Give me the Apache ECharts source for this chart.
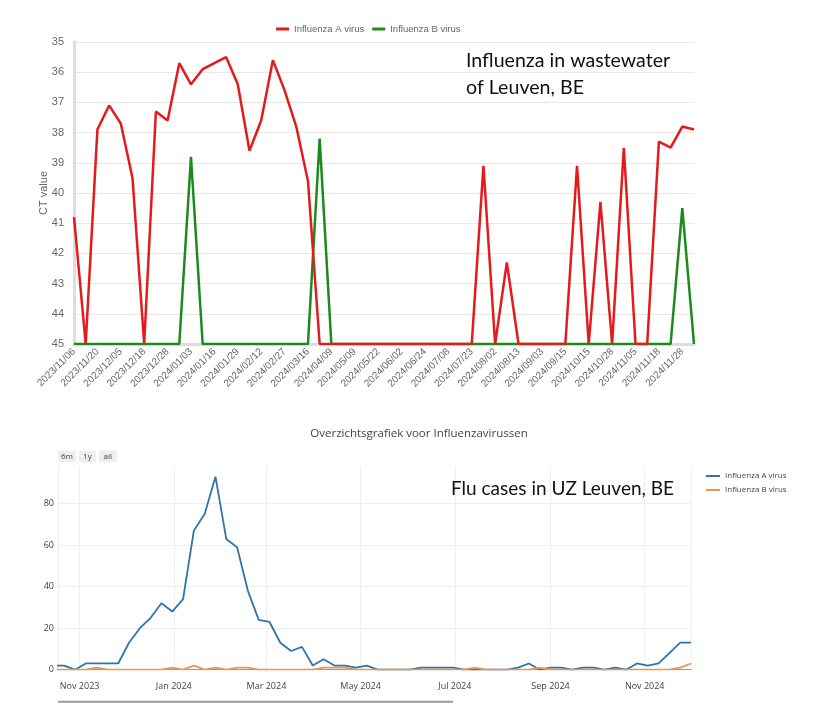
<!DOCTYPE html>
<html>
<head>
<meta charset="utf-8">
<script src="https://cdn.jsdelivr.net/npm/echarts@6/dist/echarts.min.js"></script>
<style>
html,body{margin:0;padding:0;background:#fff;}
#top{position:absolute;left:0;top:0;width:838px;height:400px;}
#bot{position:absolute;left:0;top:400px;width:838px;height:320px;}
</style>
</head>
<body>
<div id="top"></div>
<div id="bot"></div>
<script>
// ---------- Top chart: wastewater CT values ----------
const wwDates = [
 '2023/11/06','2023/11/13','2023/11/20','2023/11/27','2023/12/05','2023/12/11','2023/12/18','2023/12/22',
 '2023/12/28','2023/12/31','2024/01/03','2024/01/10','2024/01/16','2024/01/22','2024/01/29','2024/02/05',
 '2024/02/12','2024/02/19','2024/02/27','2024/03/06','2024/03/16','2024/03/27','2024/04/09','2024/04/23',
 '2024/05/09','2024/05/15','2024/05/22','2024/05/28','2024/06/02','2024/06/12','2024/06/24','2024/07/01',
 '2024/07/08','2024/07/15','2024/07/23','2024/07/28','2024/08/02','2024/08/07','2024/08/13','2024/08/22',
 '2024/09/03','2024/09/09','2024/09/15','2024/09/30','2024/10/15','2024/10/21','2024/10/28','2024/11/01',
 '2024/11/05','2024/11/12','2024/11/18','2024/11/25','2024/11/28','2024/12/02'
];
const wwFluA = [
 40.8,45,37.9,37.1,37.7,39.5,45,37.3,
 37.6,35.7,36.4,35.9,35.7,35.5,36.4,38.6,
 37.6,35.6,36.6,37.8,39.6,45,45,45,
 45,45,45,45,45,45,45,45,
 45,45,45,39.1,45,42.3,45,45,
 45,45,45,39.1,45,40.3,45,38.5,
 45,45,38.3,38.5,37.8,37.9
];
const wwFluB = [
 45,45,45,45,45,45,45,45,
 45,45,38.8,45,45,45,45,45,
 45,45,45,45,45,38.2,45,45,
 45,45,45,45,45,45,45,45,
 45,45,45,45,45,45,45,45,
 45,45,45,45,45,45,45,45,
 45,45,45,45,40.5,45
];
const ctTicks = {min:35, max:45, interval:1};

// ---------- Bottom chart: flu cases ----------
const caseDates = [
 '2023-10-15','2023-10-22','2023-10-29','2023-11-05','2023-11-12','2023-11-19','2023-11-26','2023-12-03',
 '2023-12-10','2023-12-17','2023-12-24','2023-12-31','2024-01-07','2024-01-14','2024-01-21','2024-01-28',
 '2024-02-04','2024-02-11','2024-02-18','2024-02-25','2024-03-03','2024-03-10','2024-03-17','2024-03-24',
 '2024-03-31','2024-04-07','2024-04-14','2024-04-21','2024-04-28','2024-05-05','2024-05-12','2024-05-19',
 '2024-05-26','2024-06-02','2024-06-09','2024-06-16','2024-06-23','2024-06-30','2024-07-07','2024-07-14',
 '2024-07-21','2024-07-28','2024-08-04','2024-08-11','2024-08-18','2024-08-25','2024-09-01','2024-09-08',
 '2024-09-15','2024-09-22','2024-09-29','2024-10-06','2024-10-13','2024-10-20','2024-10-27','2024-11-03',
 '2024-11-10','2024-11-17','2024-11-24','2024-12-01'
];
const casesA = [
 2,2,0,3,3,3,3,13,
 20,25,32,28,34,67,75,93,
 63,59,38,24,23,13,9,11,
 2,5,2,2,1,2,0,0,
 0,0,1,1,1,1,0,0,
 0,0,0,1,3,0,1,1,
 0,1,1,0,1,0,3,2,
 3,8,13,13
];
const casesB = [
 0,0,0,0,1,0,0,0,
 0,0,0,1,0,2,0,1,
 0,1,1,0,0,0,0,0,
 0,1,1,1,0,0,0,0,
 0,0,0,0,0,0,0,1,
 0,0,0,0,0,1,0,0,
 0,0,0,0,0,0,0,0,
 0,0,1,3
];
const caseAxisRange = ['2023-10-18','2024-12-01'];
const caseYTicks = {min:0, max:97.8, interval:20};
const monthNames = ['Jan','Feb','Mar','Apr','May','Jun','Jul','Aug','Sep','Oct','Nov','Dec'];

// ---------- Top chart ----------
const c1 = echarts.init(document.getElementById('top'), null, {renderer:'canvas'});
c1.setOption({
  animation:false,
  textStyle:{fontFamily:'Liberation Sans, Arial, sans-serif'},
  legend:{
    left:271, top:19, itemWidth:13, itemHeight:3, itemGap:8, icon:'rect',
    textStyle:{fontSize:9.5, color:'#666'},
    data:['Influenza A virus','Influenza B virus']
  },
  grid:{left:74, right:144, top:42, bottom:56, containLabel:false},
  xAxis:{
    type:'category', data:wwDates, boundaryGap:false,
    axisLine:{show:true, lineStyle:{color:'#ddd', width:3}},
    axisTick:{show:false},
    axisLabel:{interval:1, rotate:45, fontSize:10, color:'#666', margin:6, hideOverlap:false},
    splitLine:{show:false}
  },
  yAxis:{
    type:'value', inverse:true, min:ctTicks.min, max:ctTicks.max, interval:ctTicks.interval,
    name:'CT value', nameLocation:'middle', nameGap:25, nameRotate:90, nameMoveOverlap:false,
    nameTextStyle:{fontSize:11, color:'#666'},
    axisLine:{show:true, lineStyle:{color:'#ddd', width:3}},
    axisTick:{show:false},
    axisLabel:{fontSize:11, color:'#666', margin:10},
    splitLine:{show:true, lineStyle:{color:'#e8e8e8', width:1}}
  },
  graphic:[{
    type:'text', left:466, top:47, z:100,
    style:{text:'Influenza in wastewater\nof Leuven, BE', font:'19.6px Lato', fill:'#111', lineHeight:27}
  }],
  series:[
    {name:'Influenza A virus', type:'line', data:wwFluA, symbol:'none', z:3,
     lineStyle:{color:'#e41a1c', width:2.5}, itemStyle:{color:'#e41a1c'}},
    {name:'Influenza B virus', type:'line', data:wwFluB, symbol:'none', z:2,
     lineStyle:{color:'#1c8a1c', width:2.5}, itemStyle:{color:'#1c8a1c'}}
  ]
});

// ---------- Bottom chart ----------
const c2 = echarts.init(document.getElementById('bot'), null, {renderer:'canvas'});
const pairsA = caseDates.map((d,i)=>[d, casesA[i]]);
const pairsB = caseDates.map((d,i)=>[d, casesB[i]]);
const buttons = [['6m',58,18],['1y',78.7,17.3],['all',99,17.7]];
const gfx = [];
buttons.forEach(b=>{
  gfx.push({type:'rect', shape:{x:b[1], y:50.7, width:b[2], height:11.6}, style:{fill:'#eeeeee'}});
  gfx.push({type:'text', x:b[1]+b[2]/2, y:56.5, style:{text:b[0], font:'8px "Open Sans"', fill:'#444', align:'center', verticalAlign:'middle'}});
});
gfx.push({type:'rect', shape:{x:58, y:300.7, width:395, height:2}, style:{fill:'#9a9a9a'}});
gfx.push({type:'text', left:451, top:79, z:100,
  style:{text:'Flu cases in UZ Leuven, BE', font:'19px Lato', fill:'#111'}});
c2.setOption({
  animation:false,
  textStyle:{fontFamily:'"Open Sans", sans-serif'},
  title:{
    text:'Overzichtsgrafiek voor Influenzavirussen', left:'center', top:23,
    textStyle:{fontSize:11.5, fontWeight:'normal', color:'#444', fontFamily:'"Open Sans"'}
  },
  legend:{
    orient:'vertical', left:701, top:67, itemWidth:14, itemHeight:2, itemGap:6, icon:'rect',
    textStyle:{fontSize:8, color:'#444'},
    data:['Influenza A virus','Influenza B virus']
  },
  grid:{left:58, right:147, top:66.7, bottom:50.3, containLabel:false},
  xAxis:{
    type:'time', min:caseAxisRange[0], max:caseAxisRange[1],
    axisLine:{show:true, lineStyle:{color:'#999', width:1}},
    axisTick:{show:false},
    axisLabel:{fontSize:9, color:'#444', margin:12,
      formatter:function(v){const d=new Date(v);return monthNames[d.getMonth()]+' '+d.getFullYear();}},
    splitLine:{show:true, lineStyle:{color:'#eeeeee', width:1}}
  },
  yAxis:{
    type:'value', min:caseYTicks.min, max:caseYTicks.max, interval:caseYTicks.interval,
    axisLine:{show:false}, axisTick:{show:false},
    axisLabel:{fontSize:9, color:'#444', margin:4, showMaxLabel:false},
    splitLine:{show:true, lineStyle:{color:['#999','#eeeeee','#eeeeee','#eeeeee','#eeeeee','rgba(0,0,0,0)'], width:1}}
  },
  graphic:gfx,
  series:[
    {name:'Influenza A virus', type:'line', data:pairsA, symbol:'none',
     lineStyle:{color:'#2e75aa', width:1.8}, itemStyle:{color:'#2e75aa'}},
    {name:'Influenza B virus', type:'line', data:pairsB, symbol:'none',
     lineStyle:{color:'#f5924a', width:1.8}, itemStyle:{color:'#f5924a'}}
  ]
});
</script>
</body>
</html>
